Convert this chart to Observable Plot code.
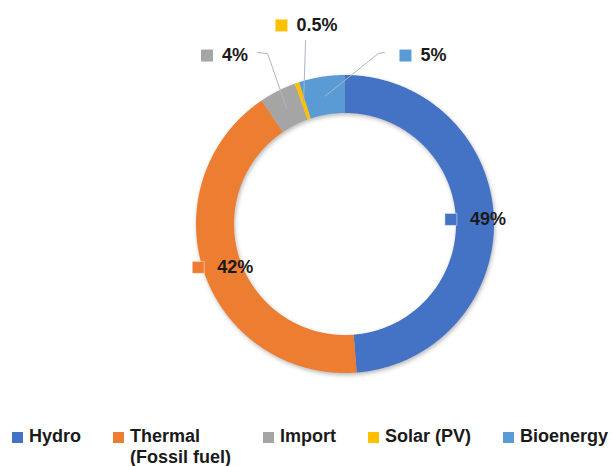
<!DOCTYPE html>
<html>
<head>
<meta charset="utf-8">
<script src="https://cdn.jsdelivr.net/npm/d3@7"></script>
<script src="https://cdn.jsdelivr.net/npm/@observablehq/plot@0.6"></script>
<style>
  body { margin: 0; background: #fff; }
  #chart svg g[aria-label="area"] { filter: drop-shadow(1.5px 2px 2px rgba(0,0,0,0.28)); }
  .legend {
    display: flex; gap: 32px; padding-left: 12px; margin-top: 6px;
    font: bold 18px/21px "Liberation Sans", Arial, sans-serif; color: #1a1a1a;
  }
  .item { display: flex; align-items: flex-start; }
  .sw { width: 11px; height: 11px; margin-top: 6px; margin-right: 6px; flex: none; }
  .name { white-space: pre; }
</style>
</head>
<body>
<div id="chart"></div>
<script>
// Electricity supply mix by source
const sources = ["Hydro", "Thermal", "Import", "Solar (PV)", "Bioenergy"];
const legendNames = ["Hydro", "Thermal\n(Fossil fuel)", "Import", "Solar (PV)", "Bioenergy"];
const shares = [49, 42, 4, 0.5, 5];
const shareLabels = ["49%", "42%", "4%", "0.5%", "5%"];
const colors = ["#4472C4", "#ED7D31", "#A5A5A5", "#FFC000", "#5B9BD5"];

// Ring geometry in units of the outer radius
const R_OUT = 1, R_IN = 111 / 149, R_MID = (R_OUT + R_IN) / 2;
const PPU = 149;                 // pixels per radius unit
const CX = 345, CY = 224;        // ring centre in the svg

// Callouts for the thin slices: label centre and leader bends (radius units)
const callouts = {
  "Import":     { at: [-0.812, 1.134], leader: [[-0.591, 1.154], [-0.523, 1.148]] },
  "Solar (PV)": { at: [-0.262, 1.336], leader: [[-0.268, 1.235]] },
  "Bioenergy":  { at: [0.520, 1.134],  leader: [[0.262, 1.154], [0.221, 1.148]] }
};

const polar = (a, r) => [r * Math.sin(a), r * Math.cos(a)]; // clockwise from 12 o'clock

const total = d3.sum(shares);
let acc = 0;
const slices = sources.map((s, i) => {
  const a0 = (acc / total) * 2 * Math.PI;
  acc += shares[i];
  const a1 = (acc / total) * 2 * Math.PI;
  return { source: s, a0, a1, mid: (a0 + a1) / 2, label: shareLabels[i] };
});

// Annular sectors sampled along their arcs
const ringPts = slices.flatMap(d => {
  const n = Math.max(2, Math.ceil((d.a1 - d.a0) / (Math.PI / 360)));
  return d3.range(n + 1).map(k => {
    const a = d.a0 + (d.a1 - d.a0) * k / n;
    const [xi, yi] = polar(a, R_IN), [xo, yo] = polar(a, R_OUT);
    return { source: d.source, x1: xi, y1: yi, x2: xo, y2: yo };
  });
});

// Text measurement for centring label blocks
const ctx = document.createElement("canvas").getContext("2d");
ctx.font = 'bold 18px "Liberation Sans"';

const SQ = 12;
const labels = slices.map(d => {
  const c = callouts[d.source];
  const center = c ? c.at : polar(d.mid, R_MID);
  const gap = c ? 9 : 13;
  const tw = ctx.measureText(d.label).width;
  const W = SQ + gap + tw;
  return {
    source: d.source, label: d.label, inside: !c,
    sx: center[0] + (-W / 2 + SQ / 2) / PPU,
    tx: center[0] + (-W / 2 + SQ + gap) / PPU,
    y: center[1]
  };
});

const leaders = slices.filter(d => callouts[d.source]).flatMap(d => {
  const pts = [...callouts[d.source].leader, polar(d.mid, R_MID)];
  return pts.map(([x, y]) => ({ source: d.source, x, y }));
});

const chart = Plot.plot({
  width: 614,
  height: 420,
  x: { domain: [-1, 1], range: [CX - PPU, CX + PPU], axis: null },
  y: { domain: [-1, 1], range: [CY + PPU, CY - PPU], axis: null },
  color: { domain: sources, range: colors },
  style: { background: "#fff" },
  marks: [
    Plot.area(ringPts, {
      x1: "x1", y1: "y1", x2: "x2", y2: "y2",
      z: "source", fill: "source", curve: "linear"
    }),
    Plot.line(leaders, {
      x: "x", y: "y", z: "source", stroke: "#aab6c6", strokeWidth: 1, curve: "linear"
    }),
    Plot.dot(labels, {
      x: "sx", y: "y", symbol: "square", r: SQ / Math.sqrt(Math.PI),
      fill: "source", stroke: "white", strokeWidth: 1,
      strokeOpacity: d => d.inside ? 0.45 : 0
    }),
    Plot.text(labels, {
      x: "tx", y: "y", text: "label", textAnchor: "start",
      fontSize: 18, fontWeight: "bold", fontFamily: "Liberation Sans",
      fill: "#1a1a1a"
    })
  ]
});
document.getElementById("chart").append(chart);

// Legend row beneath the ring
const legend = document.createElement("div");
legend.className = "legend";
sources.forEach((s, i) => {
  const item = document.createElement("div");
  item.className = "item";
  const sw = document.createElement("span");
  sw.className = "sw";
  sw.style.background = colors[i];
  const name = document.createElement("span");
  name.className = "name";
  name.textContent = legendNames[i];
  item.append(sw, name);
  legend.append(item);
});
document.getElementById("chart").append(legend);
</script>
</body>
</html>
